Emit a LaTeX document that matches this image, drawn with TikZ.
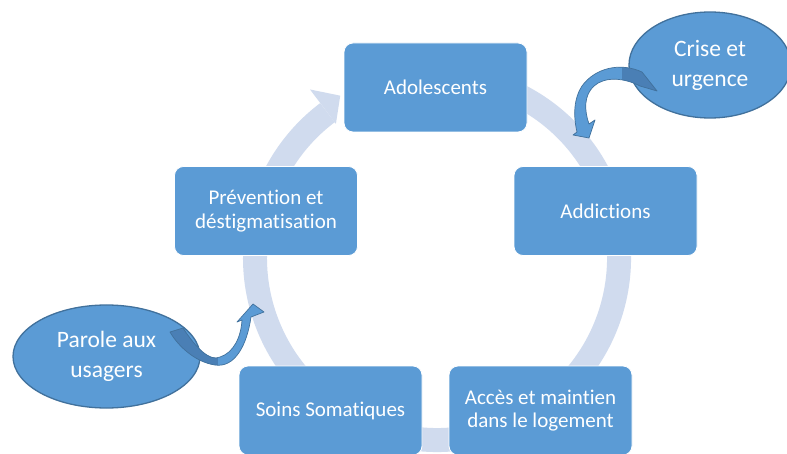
\documentclass[tikz,border=0pt]{standalone}
\usepackage{fontspec}
\setmainfont{Carlito}[Ligatures=NoCommon]
\usetikzlibrary{shapes.geometric,calc}
\definecolor{boxblue}{HTML}{5B9BD5}
\definecolor{edgeblue}{HTML}{41719C}
\definecolor{ringblue}{HTML}{D0DBEE}
\definecolor{shadeblue}{HTML}{4A7FB5}
\newcommand{\crisearrowpath}{(642,72) .. controls (620,62) and (595,68) .. (582,86) .. controls (574,98) and (573,115) .. (577,132) -- (573,135) -- (589,138) -- (595,120) -- (589,124) .. controls (584,110) and (584,95) .. (594,86) .. controls (605,76) and (625,78) .. (640,86) -- (657,91) -- cycle}
\newcommand{\parolearrowpath}{(170,332) .. controls (178,346) and (195,362) .. (215,365) .. controls (235,368) and (247,345) .. (251,317) -- (264,312) -- (253,304) -- (237,322) -- (242,320) .. controls (241,338) and (233,353) .. (220,357) .. controls (210,362) and (196,348) .. (183,328) -- cycle}
\begin{document}
\begin{tikzpicture}[x=1pt,y=-1pt,
  stepbox/.style={rectangle, rounded corners=9pt, fill=boxblue, draw=white, line width=0.8pt,
    minimum width=183pt, minimum height=89pt, inner sep=0pt, text=white, align=center,
    font=\fontsize{21}{23.5}\selectfont},
  bubble/.style={ellipse, fill=boxblue, draw=edgeblue, line width=1.3pt, inner sep=0pt,
    text=white, align=center, font=\fontsize{23.5}{30}\selectfont},
  curvearrow/.style={draw=edgeblue, line width=0.7pt, line join=round}]
\useasboundingbox (0,0) rectangle (787,454);
\clip (0,0) rectangle (787,454);
\fill[white] (0,0) rectangle (787,454);
% ring
\coordinate (C) at (437,258);
\draw[ringblue, line width=24pt] ($(C)+(-110:182)$) arc[start angle=-110, end angle=233, radius=182];
\fill[ringblue] ($(C)+(233:211)$) -- ($(C)+(239.2:189)$) -- ($(C)+(233:168)$) -- cycle;
% boxes
\node[stepbox] (ado) at (435.5,87.5) {Adolescents};
\node[stepbox] (add) at (605.5,211) {Addictions};
\node[stepbox] (acc) at (540.5,410.5) {Accès et maintien\\dans le logement};
\node[stepbox] (soi) at (330.5,410.5) {Soins Somatiques};
\node[stepbox] (pre) at (266,211) {Prévention et\\déstigmatisation};
% bubbles
\node[bubble, minimum width=162pt, minimum height=106pt] (cri) at (710,65) {Crise et\\urgence};
\node[bubble, minimum width=187pt, minimum height=103pt] (par) at (106.5,356.5) {Parole aux\\usagers};
% curved arrows
\fill[boxblue] \crisearrowpath;
\begin{scope}
  \clip \crisearrowpath;
  \fill[shadeblue] (622,50) rectangle (670,100);
\end{scope}
\draw[curvearrow] \crisearrowpath;
\fill[boxblue] \parolearrowpath;
\begin{scope}
  \clip \parolearrowpath;
  \fill[shadeblue] (160,320) rectangle (218,370);
\end{scope}
\draw[curvearrow] \parolearrowpath;
\end{tikzpicture}
\end{document}
